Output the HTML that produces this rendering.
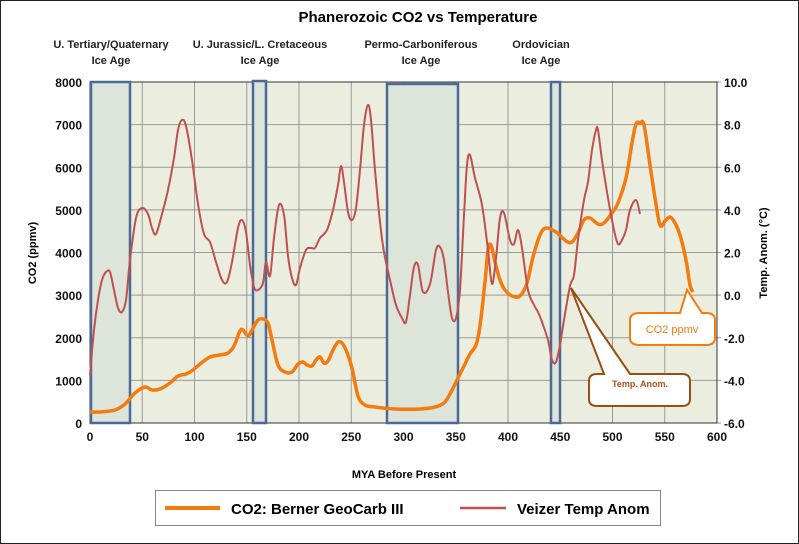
<!DOCTYPE html>
<html><head><meta charset="utf-8"><style>
body{margin:0;background:#fff}
svg{display:block;font-family:"Liberation Sans",sans-serif}
</style></head><body>
<svg id="s" width="799" height="544" viewBox="0 0 799 544" xmlns="http://www.w3.org/2000/svg">
<rect x="0.5" y="0.5" width="798" height="543" fill="#fff" stroke="#222"/>
<text x="418" y="22" font-size="15" font-weight="bold" text-anchor="middle">Phanerozoic CO2 vs Temperature</text>
<g font-size="11" font-weight="bold" fill="#222" text-anchor="middle">
<text x="111" y="48">U. Tertiary/Quaternary</text><text x="111" y="64">Ice Age</text>
<text x="260" y="48">U. Jurassic/L. Cretaceous</text><text x="260" y="64">Ice Age</text>
<text x="421" y="48">Permo-Carboniferous</text><text x="421" y="64">Ice Age</text>
<text x="541" y="48">Ordovician</text><text x="541" y="64">Ice Age</text>
</g>
<rect x="90" y="82" width="627" height="341" fill="#ebeedf"/>
<g id="grid" stroke="#9a9a9a" stroke-width="1"></g>
<rect x="90" y="82" width="627" height="341" fill="none" stroke="#333"/>
<g fill="#dde4d9" stroke="#4a6a9a" stroke-width="2.5">
<rect x="91" y="82" width="39" height="341"/>
<rect x="253" y="81" width="13" height="342"/>
<rect x="387" y="84" width="71" height="339"/>
<rect x="551" y="82" width="9" height="341"/>
</g>
<g id="lab" font-size="12" font-weight="bold" fill="#111"></g>
<text x="404" y="478" font-size="11" font-weight="bold" text-anchor="middle">MYA Before Present</text>
<text transform="translate(36,253) rotate(-90)" font-size="11" font-weight="bold" text-anchor="middle">CO2 (ppmv)</text>
<text transform="translate(767,253) rotate(-90)" font-size="11" font-weight="bold" text-anchor="middle">Temp. Anom. (°C)</text>
<path id="co2" fill="none" stroke="#f47b10" stroke-width="3.5" stroke-linejoin="round"/>
<path id="tmp" fill="none" stroke="#c0504d" stroke-width="2" stroke-linejoin="round"/>
<path d="M640,313 Q630,313 630,320 L630,338 Q630,345 640,345 L706,345 Q715,345 715,338 L715,320 Q715,313 706,313 L702,313 L687,290 L680,313 Z" fill="#fff" stroke="#f47b10" stroke-width="2"/>
<text x="672" y="333" font-size="11" fill="#f47b10" text-anchor="middle">CO2 ppmv</text>
<path d="M597,374 Q589,374 589,381 L589,399 Q589,406 597,406 L682,406 Q690,406 690,399 L690,381 Q690,374 682,374 L630,374 L571,288 L604,374 Z" fill="#fff" stroke="#9a4f10" stroke-width="2"/>
<text x="640" y="387" font-size="9" font-weight="bold" fill="#b0501a" text-anchor="middle">Temp. Anom.</text>
<rect x="155.5" y="490.5" width="505" height="35" fill="#fff" stroke="#888"/>
<line x1="165" y1="508" x2="220" y2="508" stroke="#f47b10" stroke-width="4"/>
<text x="231" y="514" font-size="15" font-weight="bold">CO2: Berner GeoCarb III</text>
<line x1="460" y1="508" x2="506" y2="508" stroke="#c0504d" stroke-width="2.5"/>
<text x="517" y="514" font-size="15" font-weight="bold">Veizer Temp Anom</text>
</svg>
<script>
var NS="http://www.w3.org/2000/svg";
function el(p,t,a,txt){var e=document.createElementNS(NS,t);for(var k in a)e.setAttribute(k,a[k]);if(txt!=null)e.textContent=txt;p.appendChild(e);}
var g=document.getElementById('grid'),L=document.getElementById('lab');
for(var i=1;i<12;i++){var x=90+i*627/12;el(g,'line',{x1:x,y1:82,x2:x,y2:423});}
for(var j=1;j<8;j++){var y=423-j*341/8;el(g,'line',{x1:90,y1:y,x2:717,y2:y});}
for(var i=0;i<=12;i++){var x=90+i*627/12;el(L,'text',{x:x,y:441,'text-anchor':'middle'},String(i*50));}
for(var j=0;j<=8;j++){var y=423-j*341/8;el(L,'text',{x:82,y:y+5,'text-anchor':'end'},String(j*1000));
 el(L,'text',{x:724,y:y+5},(-6+j*2).toFixed(1));
 el(g,'line',{x1:717,y1:y,x2:721,y2:y});}
function smooth(p){var d="M"+p[0][0]+","+p[0][1];for(var i=0;i<p.length-1;i++){var p0=p[i-1]||p[i],p1=p[i],p2=p[i+1],p3=p[i+2]||p2;
d+=" C"+(p1[0]+(p2[0]-p0[0])/6)+","+(p1[1]+(p2[1]-p0[1])/6)+" "+(p2[0]-(p3[0]-p1[0])/6)+","+(p2[1]-(p3[1]-p1[1])/6)+" "+p2[0]+","+p2[1];}return d;}
var co2=[[90,412],[100,412],[115,410],[125,404],[135,393],[145,387],[152,390],[160,389],[170,383],[178,376],[186,374],[193,370],[200,364],[210,357],[220,355],[228,353],[234,346],[240,331],[243,330],[248,336],[252,330],[258,320],[263,319],[268,323],[272,340],[278,365],[285,372],[292,372],[298,364],[303,362],[307,365],[312,366],[316,360],[320,357],[324,363],[328,361],[333,350],[338,342],[342,343],[346,350],[352,368],[358,396],[365,405],[375,407],[395,409],[420,409],[435,407],[444,403],[450,394],[457,380],[464,366],[470,354],[476,345],[480,326],[485,282],[488,250],[491,245],[495,262],[500,280],[505,290],[512,296],[520,296],[527,283],[533,257],[540,235],[546,228],[556,232],[566,241],[572,242],[578,233],[584,220],[590,218],[598,224],[604,223],[612,213],[618,203],[626,178],[632,143],[636,124],[640,123],[644,125],[650,165],[655,198],[660,225],[665,221],[670,217],[675,223],[680,235],[686,260],[690,285],[693,292]];
var tmp=[[90,375],[94,330],[98,300],[102,280],[106,272],[110,272],[114,290],[118,308],[122,312],[126,300],[130,260],[136,218],[142,208],[148,214],[152,228],[156,234],[162,214],[168,190],[174,158],[178,130],[182,120],[186,126],[192,160],[198,204],[204,234],[210,242],[216,262],[222,280],[227,282],[232,262],[238,228],[242,220],[246,232],[250,265],[254,287],[258,290],[263,283],[266,262],[270,276],[274,238],[279,205],[284,215],[288,256],[292,278],[296,285],[300,268],[306,250],[311,248],[315,248],[320,238],[327,230],[333,210],[338,185],[341,166],[344,182],[348,212],[352,220],[356,208],[360,170],[364,125],[368,105],[371,120],[375,170],[380,222],[384,252],[390,280],[396,305],[402,318],[406,322],[410,295],[414,267],[418,265],[423,292],[430,284],[436,250],[440,247],[444,260],[448,292],[452,318],[456,318],[460,290],[464,215],[467,165],[470,155],[475,178],[482,205],[488,250],[492,284],[496,258],[500,218],[504,213],[510,240],[514,244],[518,230],[522,248],[528,290],[534,305],[538,312],[542,322],[548,340],[552,360],[556,362],[560,345],[564,320],[570,286],[574,275],[578,240],[584,200],[588,182],[592,150],[596,130],[598,130],[602,160],[608,198],[614,230],[618,244],[622,240],[626,230],[630,210],[636,200],[640,214]];
document.getElementById('co2').setAttribute('d',smooth(co2));
document.getElementById('tmp').setAttribute('d',smooth(tmp));
</script>
</body></html>
